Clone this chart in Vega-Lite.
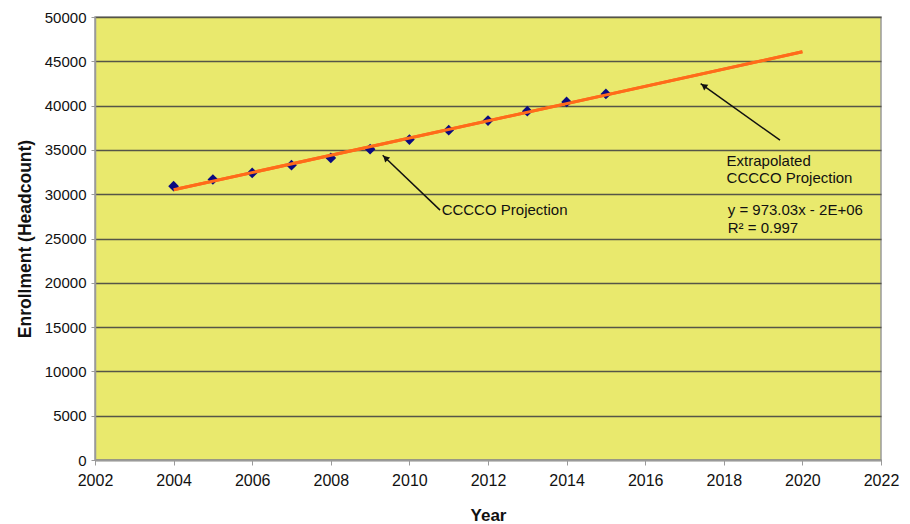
{
  "$schema": "https://vega.github.io/schema/vega-lite/v6.json",
  "width": 786,
  "height": 443,
  "autosize": {"type": "none"},
  "padding": {"left": 95, "top": 17, "right": 29, "bottom": 64},
  "background": "white",
  "config": {
    "font": "Liberation Sans",
    "view": {"fill": "#E9E96D", "stroke": "#9a9a9a", "strokeWidth": 1.5}
  },
  "datasets": {
    "points": [
      {"year": 2004, "enrollment": 30904},
      {"year": 2005, "enrollment": 31660},
      {"year": 2006, "enrollment": 32404},
      {"year": 2007, "enrollment": 33273},
      {"year": 2008, "enrollment": 34096},
      {"year": 2009, "enrollment": 35078},
      {"year": 2010, "enrollment": 36172},
      {"year": 2011, "enrollment": 37221},
      {"year": 2012, "enrollment": 38315},
      {"year": 2013, "enrollment": 39364},
      {"year": 2014, "enrollment": 40413},
      {"year": 2015, "enrollment": 41315}
    ],
    "trend": [
      {"year": 2004, "enrollment": 30499},
      {"year": 2020, "enrollment": 46068}
    ],
    "arrows": [
      {"x1": 2010.78, "y1": 28198, "x2": 2009.32, "y2": 34401},
      {"x1": 2019.43, "y1": 36093, "x2": 2017.41, "y2": 42488}
    ],
    "head1": [{"x": 2009.39, "y": 34096}],
    "head2": [{"x": 2017.49, "y": 42228}],
    "labels": [
      {"x": 2010.82, "y": 28198, "label": "CCCCO Projection"},
      {"x": 2018.07, "y": 33758, "label": "Extrapolated"},
      {"x": 2018.07, "y": 31807, "label": "CCCCO Projection"},
      {"x": 2018.1, "y": 28198, "label": "y = 973.03x - 2E+06"},
      {"x": 2018.1, "y": 26167, "label": "R² = 0.997"}
    ]
  },
  "layer": [
    {
      "data": {"name": "trend"},
      "mark": {"type": "line", "color": "#FF6B1A", "strokeWidth": 3},
      "encoding": {
        "x": {
          "field": "year", "type": "quantitative",
          "scale": {"domain": [2002, 2022], "nice": false, "zero": false},
          "axis": {
            "values": [2002, 2004, 2006, 2008, 2010, 2012, 2014, 2016, 2018, 2020, 2022],
            "format": "d", "grid": false,
            "domainColor": "#9a9a9a", "domainWidth": 1.5,
            "tickColor": "#9a9a9a", "tickSize": 5,
            "labelFontSize": 16, "labelColor": "#111", "labelPadding": 7, "labelDx": 5,
            "labelFlush": false,
            "title": "Year", "titleFontSize": 17, "titleFontWeight": "bold",
            "titleColor": "#111", "titlePadding": 19
          }
        },
        "y": {
          "field": "enrollment", "type": "quantitative",
          "scale": {"domain": [0, 50000], "nice": false},
          "axis": {
            "values": [0, 5000, 10000, 15000, 20000, 25000, 30000, 35000, 40000, 45000, 50000],
            "format": "d", "grid": true, "gridColor": "#555548", "gridWidth": 1.3,
            "ticks": true, "tickSize": 4, "tickColor": "#9a9a9a",
            "domainColor": "#9a9a9a", "domainWidth": 1.5,
            "labelFontSize": 15, "labelColor": "#111", "labelPadding": 5,
            "title": "Enrollment (Headcount)", "titleFontSize": 17.5, "titleFontWeight": "bold",
            "titleColor": "#111", "titlePadding": 10
          }
        }
      }
    },
    {
      "data": {"name": "points"},
      "mark": {"type": "point", "shape": "diamond", "filled": true, "color": "#0A0A80", "size": 115, "opacity": 1},
      "encoding": {
        "x": {"field": "year", "type": "quantitative"},
        "y": {"field": "enrollment", "type": "quantitative"}
      }
    },
    {
      "data": {"name": "trend"},
      "mark": {"type": "line", "color": "#FF6B1A", "strokeWidth": 3},
      "encoding": {
        "x": {"field": "year", "type": "quantitative"},
        "y": {"field": "enrollment", "type": "quantitative"}
      }
    },
    {
      "data": {"name": "arrows"},
      "mark": {"type": "rule", "color": "#111", "strokeWidth": 1.5},
      "encoding": {
        "x": {"field": "x1", "type": "quantitative"},
        "y": {"field": "y1", "type": "quantitative"},
        "x2": {"field": "x2"},
        "y2": {"field": "y2"}
      }
    },
    {
      "data": {"name": "head1"},
      "mark": {"type": "point", "shape": "triangle-up", "filled": true, "color": "#111", "size": 50, "angle": 314, "opacity": 1},
      "encoding": {
        "x": {"field": "x", "type": "quantitative"},
        "y": {"field": "y", "type": "quantitative"}
      }
    },
    {
      "data": {"name": "head2"},
      "mark": {"type": "point", "shape": "triangle-up", "filled": true, "color": "#111", "size": 50, "angle": 306, "opacity": 1},
      "encoding": {
        "x": {"field": "x", "type": "quantitative"},
        "y": {"field": "y", "type": "quantitative"}
      }
    },
    {
      "data": {"name": "labels"},
      "mark": {"type": "text", "align": "left", "baseline": "middle", "fontSize": 15, "color": "#111"},
      "encoding": {
        "x": {"field": "x", "type": "quantitative"},
        "y": {"field": "y", "type": "quantitative"},
        "text": {"field": "label"}
      }
    }
  ]
}
